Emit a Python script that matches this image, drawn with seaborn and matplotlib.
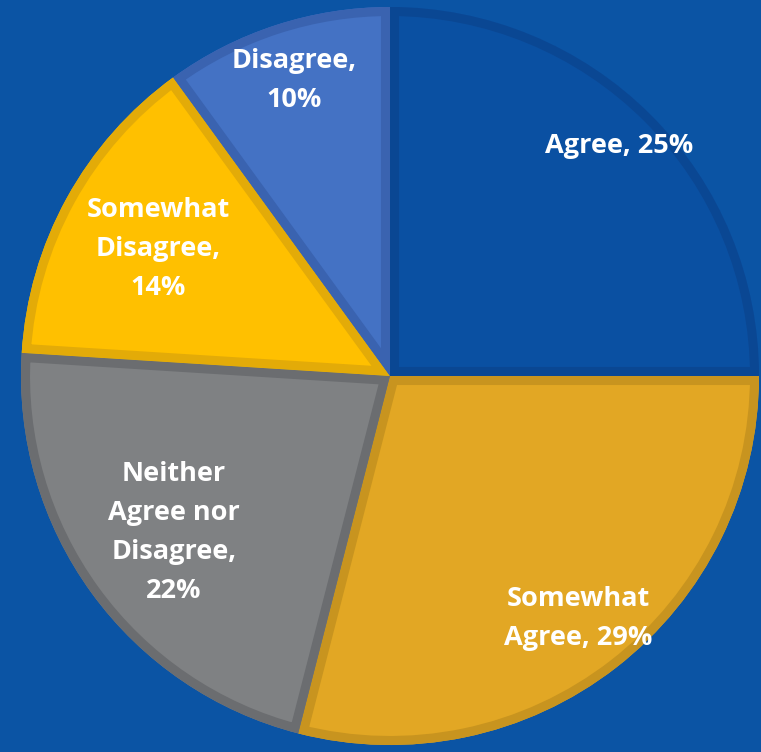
import numpy as np
import matplotlib.pyplot as plt
from matplotlib.patches import Wedge
import seaborn as sns

# data
categories = ["Agree", "Somewhat Agree", "Neither Agree nor Disagree",
              "Somewhat Disagree", "Disagree"]
shares = [25, 29, 22, 14, 10]
labels = ["Agree, 25%", "Somewhat\nAgree, 29%", "Neither\nAgree nor\nDisagree,\n22%",
          "Somewhat\nDisagree,\n14%", "Disagree,\n10%"]

# styling
fills = ["#0A50A2", "#E2A724", "#7F8183", "#FFC000", "#4472C4"]
edges = ["#0A4793", "#C8941F", "#6B6D70", "#E3AB08", "#3A63B0"]
label_r = [0.88, 0.833, 0.723, 0.717, 0.842]
BG = "#0B54A4"

sns.set_theme(style="white")
plt.rcParams["font.family"] = ["Open Sans", "DejaVu Sans"]

fig = plt.figure(figsize=(7.61, 7.52), dpi=100, facecolor=BG)
cx, cy, R = 390, 376, 369
W, H = 761, 752
ax = fig.add_axes([(cx - R) / W, (H - cy - R) / H, 2 * R / W, 2 * R / H])
ax.set_facecolor(BG)

wedges, _ = ax.pie(shares, colors=fills, startangle=90, counterclock=False,
                   radius=1.0, wedgeprops=dict(linewidth=0))

# inner darker border: a stroked copy of each wedge, clipped to the wedge
for w, ec in zip(wedges, edges):
    rim = Wedge(w.center, w.r, w.theta1, w.theta2, facecolor="none",
                edgecolor=ec, linewidth=13)
    ax.add_patch(rim)
    rim.set_clip_path(w)

for w, lab, r in zip(wedges, labels, label_r):
    mid = np.deg2rad((w.theta1 + w.theta2) / 2)
    ax.text(r * np.cos(mid), r * np.sin(mid), lab, ha="center", va="center",
            color="white", fontsize=19.5, fontweight="bold", linespacing=1.65)

ax.set_xlim(-1, 1)
ax.set_ylim(-1, 1)
ax.set_aspect("equal")
ax.axis("off")

fig.savefig("out.png", dpi=100, facecolor=BG)
